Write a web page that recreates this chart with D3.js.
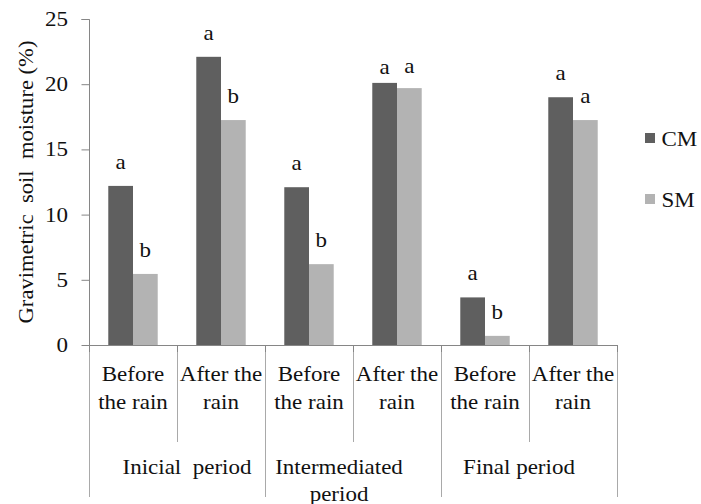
<!DOCTYPE html>
<html>
<head>
<meta charset="utf-8">
<script src="https://cdn.jsdelivr.net/npm/d3@7"></script>
<style>
  html, body { margin: 0; padding: 0; background: #fff; }
  svg { display: block; }
  text { font-family: "Liberation Serif", "Times New Roman", Times, serif; fill: #111; }
</style>
</head>
<body>
<svg id="chart" width="701" height="504"></svg>
<script>
// ---- data ----
const subCategories = ["Before the rain", "After the rain", "Before the rain", "After the rain", "Before the rain", "After the rain"];
const subLabelLines = [["Before", "the rain"], ["After the", "rain"], ["Before", "the rain"], ["After the", "rain"], ["Before", "the rain"], ["After the", "rain"]];
const periods = ["Inicial  period", "Intermediated period", "Final period"];
const periodLines = [["Inicial  period"], ["Intermediated", "period"], ["Final period"]];
const seriesNames = ["CM", "SM"];
const cmValues = [12.2, 22.1, 12.1, 20.1, 3.65, 19.0];
const smValues = [5.45, 17.25, 6.2, 19.7, 0.7, 17.25];
const cmLetters = ["a", "a", "a", "a", "a", "a"];
const smLetters = ["b", "b", "b", "a", "b", "a"];
const yTicks = [0, 5, 10, 15, 20, 25];

// ---- layout ----
const svg = d3.select("#chart");
const mLeft = 89, mRight = 617, mTop = 19, mBottom = 345;
const SX = 1.15; // horizontal text stretch
const fs = 20;
const darkCol = "#5f5f5f", lightCol = "#b3b3b3", axisCol = "#868686", divCol = "#a9a9a9";
const letterGap = 17;
const letterNudge = { "3-CM": 8, "3-SM": 1.5 }; // manual placement in the original

const y = d3.scaleLinear().domain([0, 25]).range([mBottom, mTop]);
const idx = d3.range(subCategories.length);
const x = d3.scaleBand().domain(idx).range([mLeft, mRight]).padding(0);
const xs = d3.scaleBand().domain(seriesNames).range([0, x.bandwidth()]).paddingInner(0).paddingOuter(0.78);
const color = d3.scaleOrdinal().domain(seriesNames).range([darkCol, lightCol]);

function addText(g, tx, ty, str, anchor, rot, sx) {
  return g.append("text")
    .attr("transform", `translate(${tx},${ty})` + (rot ? ` rotate(${rot})` : "") + ` scale(${sx || SX},1)`)
    .attr("text-anchor", anchor || "middle")
    .style("font-size", fs + "px")
    .style("white-space", "pre")
    .text(str);
}

// ---- y axis ----
const yAxis = d3.axisLeft(y).tickValues(yTicks).tickSize(8).tickFormat(d3.format("d"));
const yg = svg.append("g").attr("transform", `translate(${mLeft + 0.5},0)`).call(yAxis);
yg.select(".domain").attr("stroke", axisCol).attr("d", `M-8,${mTop + 0.5}H0V${mBottom}`);
yg.selectAll(".tick line").attr("stroke", axisCol);
yg.selectAll(".tick text").remove();
yTicks.forEach(t => addText(svg, 68, y(t) + 7, String(t), "end"));

// y title
addText(svg, 33, 182, "Gravimetric  soil  moisture (%)", "middle", -90, 1.13);

// ---- bars ----
const rows = idx.map(i => ({ i, vals: [
  { s: "CM", v: cmValues[i], l: cmLetters[i] },
  { s: "SM", v: smValues[i], l: smLetters[i] }
]}));
const groups = svg.append("g").selectAll("g").data(rows).join("g")
  .attr("transform", d => `translate(${x(d.i)},0)`);
groups.selectAll("rect").data(d => d.vals).join("rect")
  .attr("x", d => xs(d.s))
  .attr("y", d => y(d.v))
  .attr("width", xs.bandwidth())
  .attr("height", d => y(0) - y(d.v))
  .attr("fill", d => color(d.s));
groups.each(function(d) {
  const g = d3.select(this);
  d.vals.forEach(v => addText(g, xs(v.s) + xs.bandwidth() / 2,
    y(v.v) - letterGap + (letterNudge[d.i + "-" + v.s] || 0), v.l, "middle"));
});

// ---- x axis ----
svg.append("line").attr("x1", mLeft).attr("x2", mRight).attr("y1", mBottom + 0.5).attr("y2", mBottom + 0.5)
  .attr("stroke", axisCol).attr("stroke-width", 1);
const bounds = idx.map(i => x(i)).concat([mRight]);
bounds.forEach((bx, k) => {
  const full = k % 2 === 0;
  svg.append("line").attr("x1", bx + 0.5).attr("x2", bx + 0.5)
    .attr("y1", mBottom).attr("y2", full ? 497 : 442)
    .attr("stroke", divCol).attr("stroke-width", 1);
  svg.append("line").attr("x1", bx + 0.5).attr("x2", bx + 0.5)
    .attr("y1", mBottom).attr("y2", mBottom + 7)
    .attr("stroke", axisCol).attr("stroke-width", 1);
});
idx.forEach(i => {
  const cx = x(i) + x.bandwidth() / 2;
  subLabelLines[i].forEach((ln, j) => addText(svg, cx, 381 + j * 27.5, ln, "middle"));
});
const periodNudge = [10, -14, -10];
periods.forEach((p, k) => {
  const cx = (x(2 * k) + x(2 * k + 1) + x.bandwidth()) / 2 + periodNudge[k];
  periodLines[k].forEach((ln, j) => addText(svg, cx, 473.5 + j * 27, ln, "middle"));
});

// ---- legend ----
const leg = svg.append("g").selectAll("g").data(seriesNames).join("g")
  .attr("transform", (d, i) => `translate(645,${133 + i * 61})`);
leg.append("rect").attr("width", 10).attr("height", 10).attr("fill", d => color(d));
leg.each(function(d) { addText(d3.select(this), 16.5, 12.5, d, "start"); });
</script>
</body>
</html>
